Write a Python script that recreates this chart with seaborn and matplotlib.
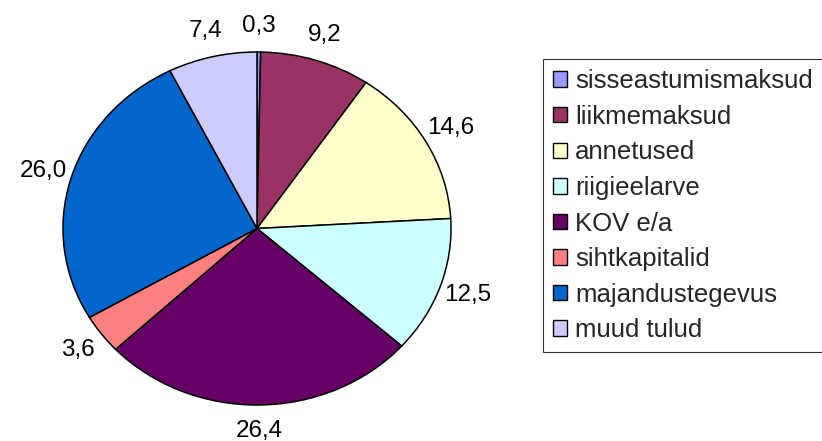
import seaborn as sns
import matplotlib.pyplot as plt
from matplotlib.patches import Patch

# Revenue structure (%)
categories = ["sisseastumismaksud", "liikmemaksud", "annetused", "riigieelarve",
              "KOV e/a", "sihtkapitalid", "majandustegevus", "muud tulud"]
values = [0.3, 9.2, 14.6, 12.5, 26.4, 3.6, 26.0, 7.4]
colors = ["#9999FF", "#993366", "#FFFFCC", "#CCFFFF",
          "#660066", "#FF8080", "#0066CC", "#CCCCFF"]

sns.set_style("white")
plt.rcParams["font.family"] = ["Liberation Sans", "DejaVu Sans"]

palette = sns.color_palette(colors)
value_labels = [f"{v:.1f}".replace(".", ",") for v in values]

fig = plt.figure(figsize=(8.22, 4.41), dpi=100)
W, H = 822, 441
# axes box = bounding box of the (slightly elliptical) pie
ax = fig.add_axes([63 / W, (H - 405) / H, 388 / W, 353 / H])

wedges, texts = ax.pie(values, colors=palette, startangle=90, counterclock=False,
                       labels=value_labels, labeldistance=1.15, radius=1,
                       wedgeprops=dict(edgecolor="black", linewidth=1.1),
                       textprops=dict(fontsize=17.5, color="black", ha="center", va="center"))
ax.set_aspect("auto")
ax.set_xlim(-1, 1)
ax.set_ylim(-1, 1)
ax.axis("off")

# Legend
handles = [Patch(facecolor=c, edgecolor="black", linewidth=1.0) for c in palette]
leg = fig.legend(handles, categories, loc="upper left",
                 bbox_to_anchor=(543 / W, 1 - 59 / H), bbox_transform=fig.transFigure,
                 borderaxespad=0, fontsize=18.5, frameon=True, fancybox=False,
                 handlelength=0.55, handleheight=0.55, handletextpad=0.3,
                 labelspacing=0.45, borderpad=0.4)
leg.get_frame().set_edgecolor("black")
leg.get_frame().set_linewidth(0.8)

fig.savefig("out.png", dpi=100)
